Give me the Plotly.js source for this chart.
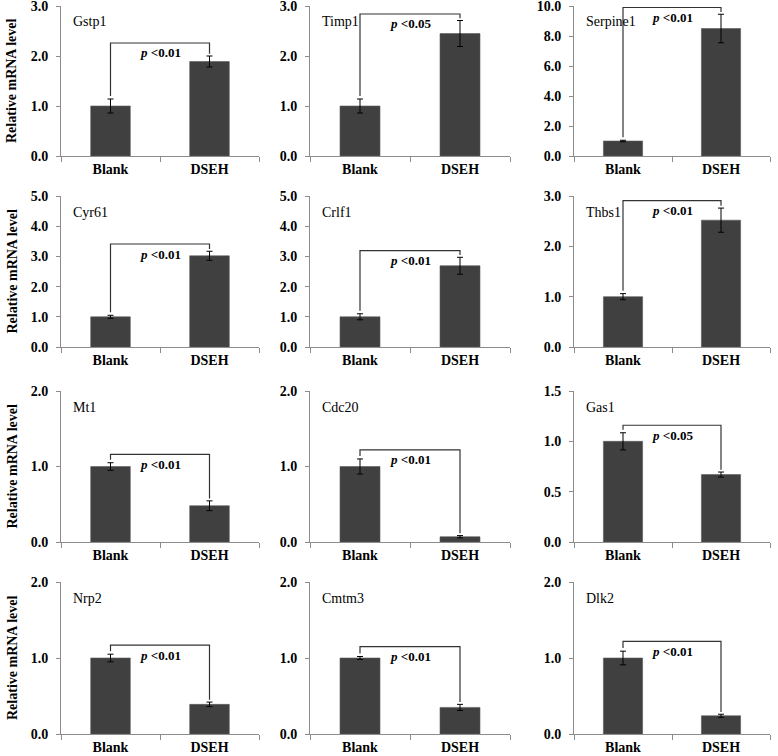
<!DOCTYPE html>
<html>
<head>
<meta charset="utf-8">
<script src="https://cdn.plot.ly/plotly-3.0.1.min.js"></script>
<style>html,body{margin:0;padding:0;background:#fff;}#chart{width:778px;height:756px;}</style>
</head>
<body>
<div id="chart"></div>
<script>
const genes = ['Gstp1','Timp1','Serpine1','Cyr61','Crlf1','Thbs1','Mt1','Cdc20','Gas1','Nrp2','Cmtm3','Dlk2'];
const groups = ['Blank','DSEH'];
const blankVals = [1.0,1.0,1.0,1.0,1.0,1.0,1.0,1.0,1.0,1.0,1.0,1.0];
const blankErr  = [0.14,0.14,0.05,0.05,0.10,0.06,0.05,0.10,0.085,0.05,0.02,0.09];
const dsehVals  = [1.89,2.45,8.5,3.02,2.69,2.52,0.48,0.07,0.67,0.39,0.35,0.24];
const dsehErr   = [0.11,0.26,0.95,0.15,0.28,0.24,0.065,0.015,0.025,0.03,0.04,0.02];
const pLabels   = ['<0.01','<0.05','<0.01','<0.01','<0.01','<0.01','<0.01','<0.01','<0.05','<0.01','<0.01','<0.01'];
const yMax      = [3,3,10,5,5,3,2,2,1.5,2,2,2];
const yStep     = [1,1,2,1,1,1,1,1,0.5,1,1,1];
const bracketY  = [2.26,2.84,9.9,3.41,3.19,2.91,1.16,1.22,1.16,1.17,1.15,1.22];

const W = 778, H = 756;
const colDom = [[61/W,259/W],[310/W,510/W],[574/W,770/W]];
const rowPx = [[6,156],[196,347],[391,542],[582,734]];
const rowDom = rowPx.map(r => [1 - r[1]/H, 1 - r[0]/H]);

const serif = 'Liberation Serif, Times New Roman, serif';
const axisGray = '#8c8c8c';
const data = [];
const layout = {
  width: W, height: H,
  margin: {l:0, r:0, t:0, b:0},
  paper_bgcolor: '#fff', plot_bgcolor: '#fff',
  showlegend: false,
  bargap: 0.6,
  font: {family: serif, color: '#000'},
  shapes: [], annotations: []
};

genes.forEach((g, i) => {
  const row = Math.floor(i/3), col = i % 3;
  const sfx = i === 0 ? '' : String(i+1);
  const xa = 'x' + sfx, ya = 'y' + sfx;
  data.push({
    type: 'bar', x: groups, y: [blankVals[i], dsehVals[i]],
    xaxis: xa, yaxis: ya,
    marker: {color: '#404040', line: {color: '#5a5a5a', width: 0.6}},
    error_y: {type: 'data', array: [blankErr[i], dsehErr[i]], visible: true, color: '#000', thickness: 1, width: 3},
    hoverinfo: 'none'
  });
  layout['xaxis' + sfx] = {
    domain: colDom[col], anchor: ya, type: 'category', range: [-0.5, 1.5],
    showline: true, linecolor: axisGray, linewidth: 1,
    ticks: 'outside', tickson: 'boundaries', ticklen: 5, tickcolor: axisGray,
    showgrid: false, zeroline: false, fixedrange: true, ticklabeloverflow: 'allow',
    tickfont: {family: serif, size: 14, weight: 'bold', color: '#000'}
  };
  const tv = [];
  for (let v = 0; v <= yMax[i] + 1e-9; v += yStep[i]) tv.push(+v.toFixed(2));
  layout['yaxis' + sfx] = {
    domain: rowDom[row], anchor: xa, range: [0, yMax[i]],
    tickmode: 'array', tickvals: tv, tickformat: '.1f',
    showline: true, linecolor: axisGray, linewidth: 1,
    ticks: 'outside', ticklen: 4, tickcolor: axisGray, ticklabelstandoff: 5,
    showgrid: false, zeroline: false, fixedrange: true, ticklabeloverflow: 'allow',
    tickfont: {family: serif, size: 14, weight: 'bold', color: '#000'}
  };
  // significance bracket
  const yL = blankVals[i] + blankErr[i] + 0.02*yMax[i];
  const yR = dsehVals[i] + dsehErr[i] + 0.015*yMax[i];
  const b = bracketY[i];
  layout.shapes.push({
    type: 'path', xref: xa, yref: ya,
    path: `M 0,${yL} L 0,${b} L 1,${b} L 1,${yR}`,
    line: {color: '#333', width: 1.2}
  });
  layout.annotations.push({
    xref: xa, yref: ya, x: 0.5, y: b, yanchor: 'middle', xanchor: 'center', yshift: -10,
    showarrow: false,
    text: '<i>p</i> ' + pLabels[i],
    font: {family: serif, size: 13, weight: 'bold', color: '#000'}
  });
  // gene label
  layout.annotations.push({
    xref: xa + ' domain', yref: ya + ' domain', x: 0.05, y: 1, xanchor: 'left', yanchor: 'middle', yshift: -16,
    showarrow: false, text: g,
    font: {family: serif, size: 14, color: '#000'}
  });
  if (col === 0) {
    layout.annotations.push({
      xref: 'paper', yref: ya + ' domain', x: 12/W, y: 0.5, xanchor: 'center', yanchor: 'middle',
      textangle: -90, showarrow: false, text: 'Relative mRNA level',
      font: {family: serif, size: 14, weight: 'bold', color: '#000'}
    });
  }
});

Plotly.newPlot('chart', data, layout, {staticPlot: true, displayModeBar: false});
</script>
</body>
</html>
